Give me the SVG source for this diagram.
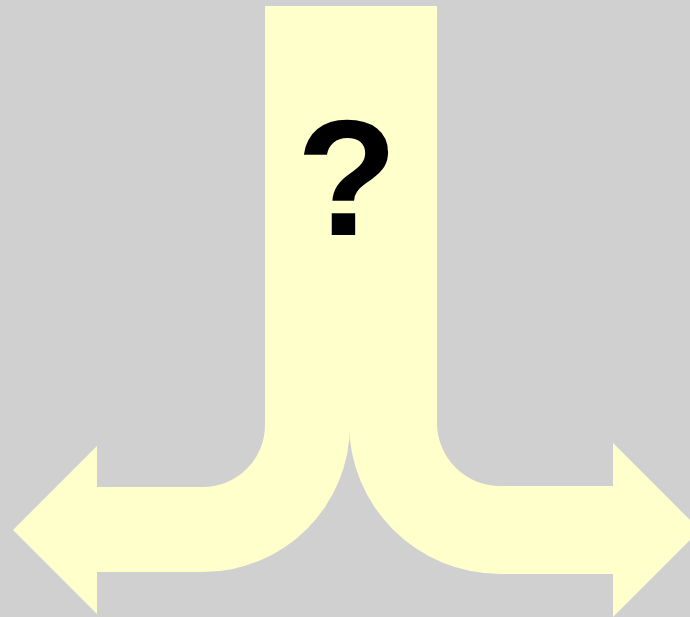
<svg xmlns="http://www.w3.org/2000/svg" width="690" height="617" viewBox="0 0 690 617">
<style>
.arrow{fill:#ffffcc;stroke:none}
.q{font-family:"Liberation Sans",Arial,sans-serif;font-weight:bold;font-size:166px;fill:#000;text-anchor:middle}
</style>
<rect x="0" y="0" width="690" height="617" fill="#d0d0d0"/>
<g id="stem">
<rect class="arrow" x="265" y="6" width="172" height="419"/>
</g>
<g id="left-arrow">
<path class="arrow" d="M265,424 L265,425 A62,62 0 0 1 203,487 L97,487 L97,446 L13,530 L97,614 L97,572 L203,572 A147,147 0 0 0 350,425 L350,424 Z"/>
</g>
<g id="right-arrow">
<path class="arrow" d="M437,422 L437,423 A63,63 0 0 0 500,486 L613,486 L613,443 L700,530 L613,617 L613,574 L500,574 A151,151 0 0 1 349,423 L349,422 Z"/>
</g>
<g id="question">
<text class="q" x="347" y="235">?</text>
</g>
</svg>
